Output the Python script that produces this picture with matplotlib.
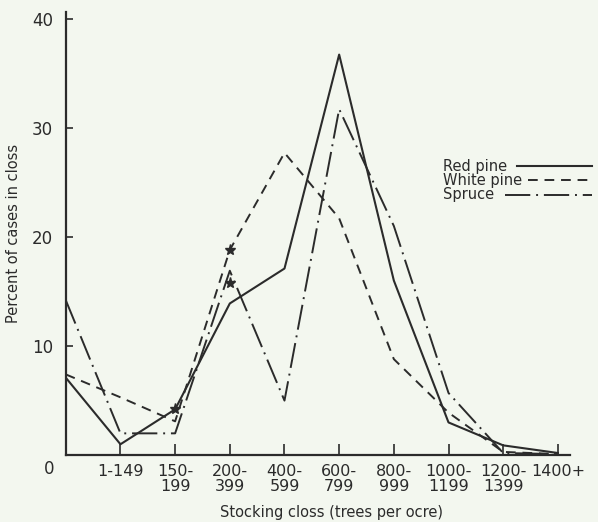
import numpy as np
import matplotlib
matplotlib.use("Agg")
import matplotlib.pyplot as plt

# stocking classes (trees per acre)
classes = ["", "1-149", "150-\n199", "200-\n399", "400-\n599", "600-\n799",
           "800-\n999", "1000-\n1199", "1200-\n1399", "1400+"]

# percent of cases in each class
red_pine = [7.1, 1.0, 4.2, 13.9, 17.1, 36.7, 16.0, 3.0, 0.9, 0.2]
white_pine = [7.4, 5.3, 3.1, 18.8, 27.7, 21.7, 8.8, 3.9, 0.3, 0.1]
spruce = [14.2, 2.0, 2.0, 16.9, 5.0, 31.7, 21.0, 5.7, 0.2, 0.1]

# starred points
star_x = [2, 3, 3]
star_y = [4.2, 18.8, 15.8]

ink = "#2b2b2b"
paper = "#f3f7ef"

plt.rcParams['font.family'] = ['DejaVu Sans']

fig = plt.figure(figsize=(5.98, 5.22), dpi=100, facecolor=paper)
ax = fig.add_axes([0.110, 0.128, 0.843, 0.849])
ax.set_facecolor(paper)

styles = {
    'Red pine': dict(lw=1.5, ls='-'),
    'White pine': dict(lw=1.4, ls=(0, (5, 3.5))),
    'Spruce': dict(lw=1.4, ls=(0, (13, 3, 1, 3))),
}

x = np.arange(len(classes))
ax.plot(x, red_pine, color=ink, **styles['Red pine'])
ax.plot(x, white_pine, color=ink, **styles['White pine'])
ax.plot(x, spruce, color=ink, **styles['Spruce'])
ax.plot(star_x, star_y, ls='none', marker='*', ms=8, color=ink)

ax.set_xlim(0, 9.22)
ax.set_ylim(0, 40.6)

ax.set_xticks(x[1:])
ax.set_xticklabels(classes[1:], fontsize=11.5, linespacing=1.05, color=ink)
ax.set_yticks([10, 20, 30, 40])
ax.set_yticklabels(["10", "20", "30", "40"], fontsize=12, color=ink)
ax.tick_params(axis='x', direction='in', length=8, width=1.2, pad=6, colors=ink)
ax.tick_params(axis='y', direction='in', length=5, width=1.2, pad=9, colors=ink)

# origin label sits below and left of the corner
ax.annotate("0", xy=(0, 0), xycoords='data', xytext=(-17, -14),
            textcoords='offset pixels', ha='center', va='center',
            fontsize=12, color=ink)

for side in ['top', 'right']:
    ax.spines[side].set_visible(False)
for side in ['left', 'bottom']:
    ax.spines[side].set_linewidth(1.6)
    ax.spines[side].set_color(ink)

ax.set_ylabel("Percent of cases in closs", fontsize=10.5, color=ink)
ax.yaxis.set_label_coords(-0.088, 0.5)
fig.text(331 / 598, 1 - 513 / 522, "Stocking closs (trees per ocre)",
         ha='center', va='center', fontsize=10.5, color=ink)

# hand-built key: left-aligned names, line sample after each name
key_rows = [('Red pine', 166, 517), ('White pine', 180, 528), ('Spruce', 195, 505)]
for name, ypix, x0 in key_rows:
    fy = 1 - ypix / 522
    fig.text(443 / 598, fy, name, ha='left', va='center', fontsize=10.5, color=ink)
    fig.add_artist(plt.Line2D([x0 / 598, 592 / 598], [fy, fy], color=ink,
                              transform=fig.transFigure, **styles[name]))

fig.savefig("out.png", dpi=100, facecolor=paper)
